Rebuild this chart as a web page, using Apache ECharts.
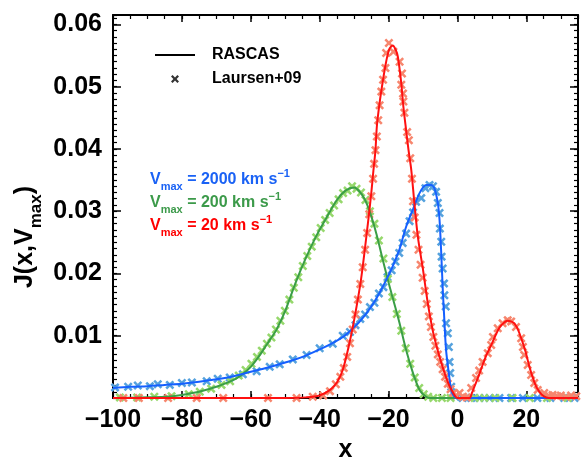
<!DOCTYPE html>
<html>
<head>
<meta charset="utf-8">
<script src="https://cdn.jsdelivr.net/npm/echarts@6/dist/echarts.min.js"></script>
<style>
  html, body { margin: 0; padding: 0; background: #fff; }
  #chart { width: 581px; height: 459px; }
</style>
</head>
<body>
<div id="chart"></div>
<script>
// Axis ranges and tick steps
const xRange = [-100, 35];
const yRange = [0, 0.0615];
const xMajor = 20, xMinor = 5;
const yMajor = 0.01, yMinor = 0.001;

// RASCAS spectra, J(x, Vmax), for three maximum outflow velocities
const rascas2000 = [[-100,0.0016],[-95,0.0018],[-90,0.0019],[-85,0.0021],[-80,0.0023],[-75,0.0026],[-70,0.0030],[-65,0.0035],[-60,0.0042],[-55,0.0049],[-50,0.0057],[-45,0.0066],[-40,0.0078],[-36,0.0089],[-33,0.0099],[-31.5,0.0106],[-29,0.0119],[-27,0.0132],[-25,0.0147],[-23,0.0165],[-21,0.0186],[-19,0.0209],[-17.5,0.0229],[-16.8,0.0239],[-14.9,0.0275],[-12.9,0.0303],[-11,0.0329],[-9.1,0.0342],[-7.7,0.0342],[-6.7,0.0337],[-5.7,0.0313],[-5.2,0.0286],[-4.7,0.0232],[-4.3,0.0179],[-3.8,0.0125],[-3.3,0.0077],[-2.5,0.0040],[-1.8,0.0013],[-0.9,0.0002],[0,0],[35,0]];
const rascas200 = [[-100,0],[-92,0.0001],[-85,0.0002],[-80,0.0005],[-75,0.0010],[-70,0.0018],[-65,0.0029],[-62,0.0040],[-60,0.0050],[-58,0.0064],[-56.4,0.0077],[-54.5,0.0093],[-52.6,0.0109],[-50,0.0140],[-47,0.0185],[-44,0.0225],[-41,0.0260],[-38,0.0290],[-35,0.0318],[-32.5,0.0333],[-30,0.0338],[-28.5,0.0332],[-27,0.0320],[-25.5,0.0300],[-23.5,0.0263],[-21.5,0.0218],[-19.5,0.0175],[-18,0.0145],[-16.8,0.0120],[-14.9,0.0077],[-12.9,0.0040],[-11,0.0013],[-9.1,0.0002],[-8,0],[35,0]];
const rascas20 = [[-100,0],[-50,0],[-44,0.0001],[-40,0.0004],[-37,0.0013],[-35,0.0025],[-33.3,0.0045],[-31.6,0.0082],[-30,0.0125],[-28,0.0190],[-26,0.0280],[-25,0.0330],[-24.4,0.0365],[-23.8,0.0398],[-23.4,0.0436],[-22.6,0.0474],[-21.6,0.0511],[-20.7,0.0540],[-19.8,0.0560],[-18.8,0.0566],[-18,0.0560],[-17.3,0.0548],[-16.3,0.0505],[-15.7,0.0468],[-14.9,0.0430],[-14.2,0.0398],[-13.4,0.0366],[-12.5,0.0313],[-11.5,0.0259],[-10,0.0206],[-8.6,0.0152],[-7.2,0.0109],[-6.2,0.0086],[-5.2,0.0066],[-4.2,0.0048],[-3.3,0.0033],[-2.3,0.0019],[-1.4,0.0010],[-0.5,0.0002],[0,0],[3.5,0],[4.2,0.0008],[4.9,0.0018],[6,0.0033],[7.3,0.0053],[8.5,0.0070],[9.8,0.0085],[11,0.0100],[12.2,0.0113],[13.5,0.0121],[14.5,0.0124],[15.5,0.0123],[16.5,0.0120],[17.3,0.0113],[18,0.0104],[19,0.0088],[19.9,0.0072],[20.8,0.0052],[21.8,0.0034],[22.8,0.0019],[23.8,0.0010],[25,0.0003],[26.5,0],[35,0]];

// Laursen et al. (2009) reference points
const laursen2000 = [[-99.4,0.0017],[-95.6,0.0018],[-92.8,0.0020],[-89.3,0.0019],[-87,0.0022],[-83.5,0.0021],[-80,0.0024],[-77.1,0.0025],[-72.8,0.0027],[-69.6,0.0031],[-66.1,0.0033],[-62.3,0.0038],[-58.3,0.0043],[-54.5,0.0050],[-51.6,0.0054],[-47.8,0.0062],[-43.8,0.0069],[-40,0.0080],[-36.2,0.0087],[-33.3,0.0100],[-31.2,0.0106],[-29.6,0.0117],[-28.2,0.0127],[-26.8,0.0134],[-25.4,0.0146],[-24.1,0.0153],[-22.8,0.0168],[-21.5,0.0178],[-20.3,0.0194],[-19.1,0.0205],[-18,0.0219],[-16.9,0.0233],[-15.9,0.0249],[-14.9,0.0264],[-13.9,0.0284],[-12.9,0.0298],[-12,0.0315],[-10.5,0.0321],[-9.3,0.0337],[-8.1,0.0342],[-7.1,0.0340],[-6.2,0.0331],[-5.7,0.0313],[-5.2,0.0297],[-5.1,0.0272],[-4.7,0.0251],[-4.6,0.0227],[-4.3,0.0208],[-3.9,0.0184],[-3.8,0.0165],[-3.4,0.0147],[-3.3,0.0120],[-2.8,0.0104],[-2.5,0.0082],[-2.3,0.0058],[-2.1,0.0040],[-1.8,0.0018],[-1.4,0.0008],[-0.6,0.0002],[1.5,0],[4,0],[6.4,0],[9.3,0],[12.2,0],[15.6,0],[19,0],[23.2,0],[27,0],[31,0],[34,0]];
const laursen200 = [[-98,0.0001],[-93,0.0001],[-88,0.0002],[-83,0.0003],[-78,0.0006],[-74.8,0.0010],[-71.5,0.0015],[-68.5,0.0021],[-66,0.0027],[-63.5,0.0036],[-61.5,0.0045],[-59.8,0.0055],[-58.2,0.0066],[-56.8,0.0076],[-55.3,0.0087],[-54,0.0097],[-52.7,0.0110],[-51.4,0.0124],[-50.1,0.0140],[-48.8,0.0158],[-47.5,0.0177],[-46.2,0.0194],[-44.9,0.0212],[-43.6,0.0228],[-42.3,0.0243],[-41,0.0258],[-39.7,0.0273],[-38.4,0.0286],[-37.1,0.0297],[-35.8,0.0309],[-34.5,0.0319],[-33.2,0.0329],[-31.9,0.0333],[-30.6,0.0340],[-29.3,0.0336],[-28,0.0330],[-26.7,0.0318],[-25.4,0.0300],[-24.1,0.0280],[-22.8,0.0253],[-21.5,0.0224],[-20.2,0.0191],[-18.9,0.0162],[-17.6,0.0135],[-16.3,0.0108],[-15,0.0080],[-13.7,0.0055],[-12.4,0.0033],[-11.1,0.0016],[-9.8,0.0006],[-8.5,0.0002],[-7,0],[-4.5,0],[-2,0],[5,0],[7.8,0],[11,0],[16,0],[21,0],[26,0],[32,0]];
const laursen20 = [[-97,0],[-92.5,0],[-84,0],[-75.7,0],[-68,0],[-55,0],[-46.7,0],[-42,0.0002],[-39,0.0004],[-37,0.0011],[-35.3,0.0022],[-34,0.0034],[-33,0.0048],[-32,0.0066],[-31.2,0.0088],[-30.4,0.0110],[-29.6,0.0134],[-28.9,0.0158],[-28.2,0.0183],[-27.5,0.0210],[-26.8,0.0238],[-26.2,0.0265],[-25.6,0.0295],[-25,0.0324],[-24.5,0.0352],[-24.2,0.0376],[-23.8,0.0398],[-23.4,0.0420],[-23,0.0446],[-22.6,0.0470],[-22.1,0.0492],[-21.6,0.0511],[-20.9,0.0530],[-20.7,0.0554],[-19.9,0.0570],[-18.6,0.0556],[-16.8,0.0540],[-16.1,0.0521],[-16.3,0.0503],[-15.8,0.0489],[-15.7,0.0476],[-15.4,0.0458],[-14.6,0.0427],[-14.1,0.0414],[-13.7,0.0385],[-13.2,0.0352],[-12.9,0.0316],[-12.4,0.0290],[-11.9,0.0262],[-11.3,0.0238],[-10.7,0.0214],[-10.1,0.0193],[-9.5,0.0172],[-8.9,0.0151],[-8.3,0.0131],[-7.7,0.0114],[-7,0.0098],[-6.4,0.0084],[-5.7,0.0070],[-5,0.0058],[-4.3,0.0046],[-3.6,0.0034],[-2.8,0.0023],[-2,0.0014],[-1.2,0.0008],[-0.4,0.0004],[0.6,0.0008],[1.6,0.0002],[2.7,0.0001],[4,0.0016],[5.4,0.0032],[6.3,0.0044],[7.3,0.0058],[8.8,0.0072],[9.8,0.0085],[10.3,0.0098],[11.7,0.0112],[13.1,0.0120],[14.6,0.0125],[15.6,0.0123],[17,0.0114],[18.5,0.0096],[19,0.0082],[19.4,0.0069],[20.4,0.0053],[21.4,0.0037],[22.3,0.0024],[23.3,0.0013],[25.2,0.0008],[26.5,0.0004],[27.6,0.0005],[29,0.0003],[30,0.0004],[31.5,0.0002],[33,0.0004],[34.5,0.0003]];

// Velocity labels and colours
const vmaxValues = ['2000', '200', '20'];
const lineColors = ['#1560ff', '#3a9e46', '#ff1010'];
const markColors = ['#55a2de', '#96d86c', '#f7866e'];
const textColors = ['#1a62f5', '#3c9a4a', '#ff0000'];

const FONT = "'Liberation Sans', Arial, Helvetica, sans-serif";
const CROSS = 'path://M0,2L2,0L5,3L8,0L10,2L7,5L10,8L8,10L5,7L2,10L0,8L3,5Z';

const chart = echarts.init(document.getElementById('chart'), null, { renderer: 'canvas' });

function xAxisPair(position) {
  const major = {
    type: 'value', position, min: xRange[0], max: xRange[1], interval: xMajor,
    axisLine: { show: true, onZero: false, lineStyle: { color: '#000', width: 2 } },
    axisTick: { show: true, inside: true, length: 7, lineStyle: { color: '#000', width: 1.5 } },
    axisLabel: { show: false },
    splitLine: { show: false }
  };
  const minor = {
    type: 'value', position, min: xRange[0], max: xRange[1], interval: xMinor,
    axisLine: { show: false, onZero: false },
    axisTick: { show: true, inside: true, length: 4, lineStyle: { color: '#000', width: 1.2 } },
    axisLabel: { show: false },
    splitLine: { show: false }
  };
  return [major, minor];
}
function yAxisPair(position) {
  const major = {
    type: 'value', position, min: yRange[0], max: yRange[1], interval: yMajor,
    axisLine: { show: true, onZero: false, lineStyle: { color: '#000', width: 2 } },
    axisTick: { show: true, inside: true, length: 8, lineStyle: { color: '#000', width: 1.5 } },
    axisLabel: { show: false },
    splitLine: { show: false }
  };
  const minor = {
    type: 'value', position, min: yRange[0], max: yRange[1], interval: yMinor,
    axisLine: { show: false, onZero: false },
    axisTick: { show: true, inside: true, length: 4, lineStyle: { color: '#000', width: 1.2 } },
    axisLabel: { show: false },
    splitLine: { show: false }
  };
  return [major, minor];
}

const xAxes = xAxisPair('bottom').concat(xAxisPair('top'));
const yAxes = yAxisPair('left').concat(yAxisPair('right'));

// bottom axis labels and title
Object.assign(xAxes[0], {
  axisLabel: {
    show: true, margin: 10, fontSize: 25, fontWeight: 'bold', color: '#000', fontFamily: FONT,
    showMaxLabel: false,
    formatter: v => (v === xRange[1] ? '' : String(v).replace('-', '\u2212'))
  },
  name: 'x', nameLocation: 'middle', nameGap: 34,
  nameTextStyle: { fontSize: 25, fontWeight: 'bold', color: '#000', fontFamily: FONT }
});
// left axis labels
Object.assign(yAxes[0], {
  axisLabel: {
    show: true, margin: 11, fontSize: 25, fontWeight: 'bold', color: '#000', fontFamily: FONT,
    formatter: v => {
      const k = v / yMajor;
      return (v > 0.005 && Math.abs(k - Math.round(k)) < 1e-6) ? v.toFixed(2) : '';
    }
  }
});

function marks(name, data, color) {
  return {
    name, type: 'scatter', data, xAxisIndex: 0, yAxisIndex: 0,
    symbol: CROSS, symbolSize: 9, clip: true,
    itemStyle: { color, opacity: 1 }, z: 2
  };
}
function curve(name, data, color) {
  return {
    name, type: 'line', data, xAxisIndex: 0, yAxisIndex: 0,
    showSymbol: false, symbol: 'none', smooth: 0.3, clip: true,
    lineStyle: { color, width: 2 }, itemStyle: { color }, z: 3
  };
}

function vLabel(i, y) {
  return {
    type: 'text', x: 150, y,
    style: {
      text: '{v|V}{s|max}{v| = ' + vmaxValues[i] + ' km s}{p|\u22121}',
      fill: textColors[i],
      rich: {
        v: { fontSize: 16, fontWeight: 'bold', fontFamily: FONT, lineHeight: 24, fill: textColors[i] },
        s: { fontSize: 11, fontWeight: 'bold', fontFamily: FONT, lineHeight: 12, verticalAlign: 'bottom', fill: textColors[i] },
        p: { fontSize: 11, fontWeight: 'bold', fontFamily: FONT, lineHeight: 14, verticalAlign: 'top', fill: textColors[i] }
      },
      verticalAlign: 'middle'
    }
  };
}

const option = {
  animation: false,
  backgroundColor: '#fff',
  grid: { left: 113, right: 3, top: 15, bottom: 61, containLabel: false, outerBoundsMode: 'none' },
  xAxis: xAxes,
  yAxis: yAxes,
  legend: {
    left: 150, top: 42, orient: 'vertical',
    itemWidth: 40, itemHeight: 8, itemGap: 8,
    selectedMode: false,
    textStyle: { fontSize: 16, fontWeight: 'bold', color: '#000', fontFamily: FONT, padding: [0, 0, 0, 12] },
    data: [
      { name: 'RASCAS', icon: 'path://M0,0L40,0L40,2L0,2Z' },
      { name: 'Laursen+09', icon: CROSS }
    ]
  },
  series: [
    { name: 'RASCAS', type: 'line', data: [], symbol: 'none', itemStyle: { color: '#000' }, lineStyle: { color: '#000', width: 2 } },
    { name: 'Laursen+09', type: 'scatter', data: [], symbol: CROSS, itemStyle: { color: '#000' } },
    marks('Laursen 2000', laursen2000, markColors[0]),
    marks('Laursen 200', laursen200, markColors[1]),
    marks('Laursen 20', laursen20, markColors[2]),
    curve('RASCAS 200', rascas200, lineColors[1]),
    curve('RASCAS 2000', rascas2000, lineColors[0]),
    curve('RASCAS 20', rascas20, lineColors[2])
  ],
  graphic: [
    vLabel(0, 180),
    vLabel(1, 203),
    vLabel(2, 226),
    {
      type: 'text', x: 25, y: 237, rotation: Math.PI / 2,
      style: {
        text: '{m|J(x,V}{s|max}{m|)}',
        align: 'center', verticalAlign: 'middle', fill: '#000',
        rich: {
          m: { fontSize: 25, fontWeight: 'bold', fontFamily: FONT, lineHeight: 40, fill: '#000' },
          s: { fontSize: 17, fontWeight: 'bold', fontFamily: FONT, lineHeight: 17, verticalAlign: 'bottom', fill: '#000' }
        }
      }
    }
  ]
};

chart.setOption(option);
</script>
</body>
</html>
